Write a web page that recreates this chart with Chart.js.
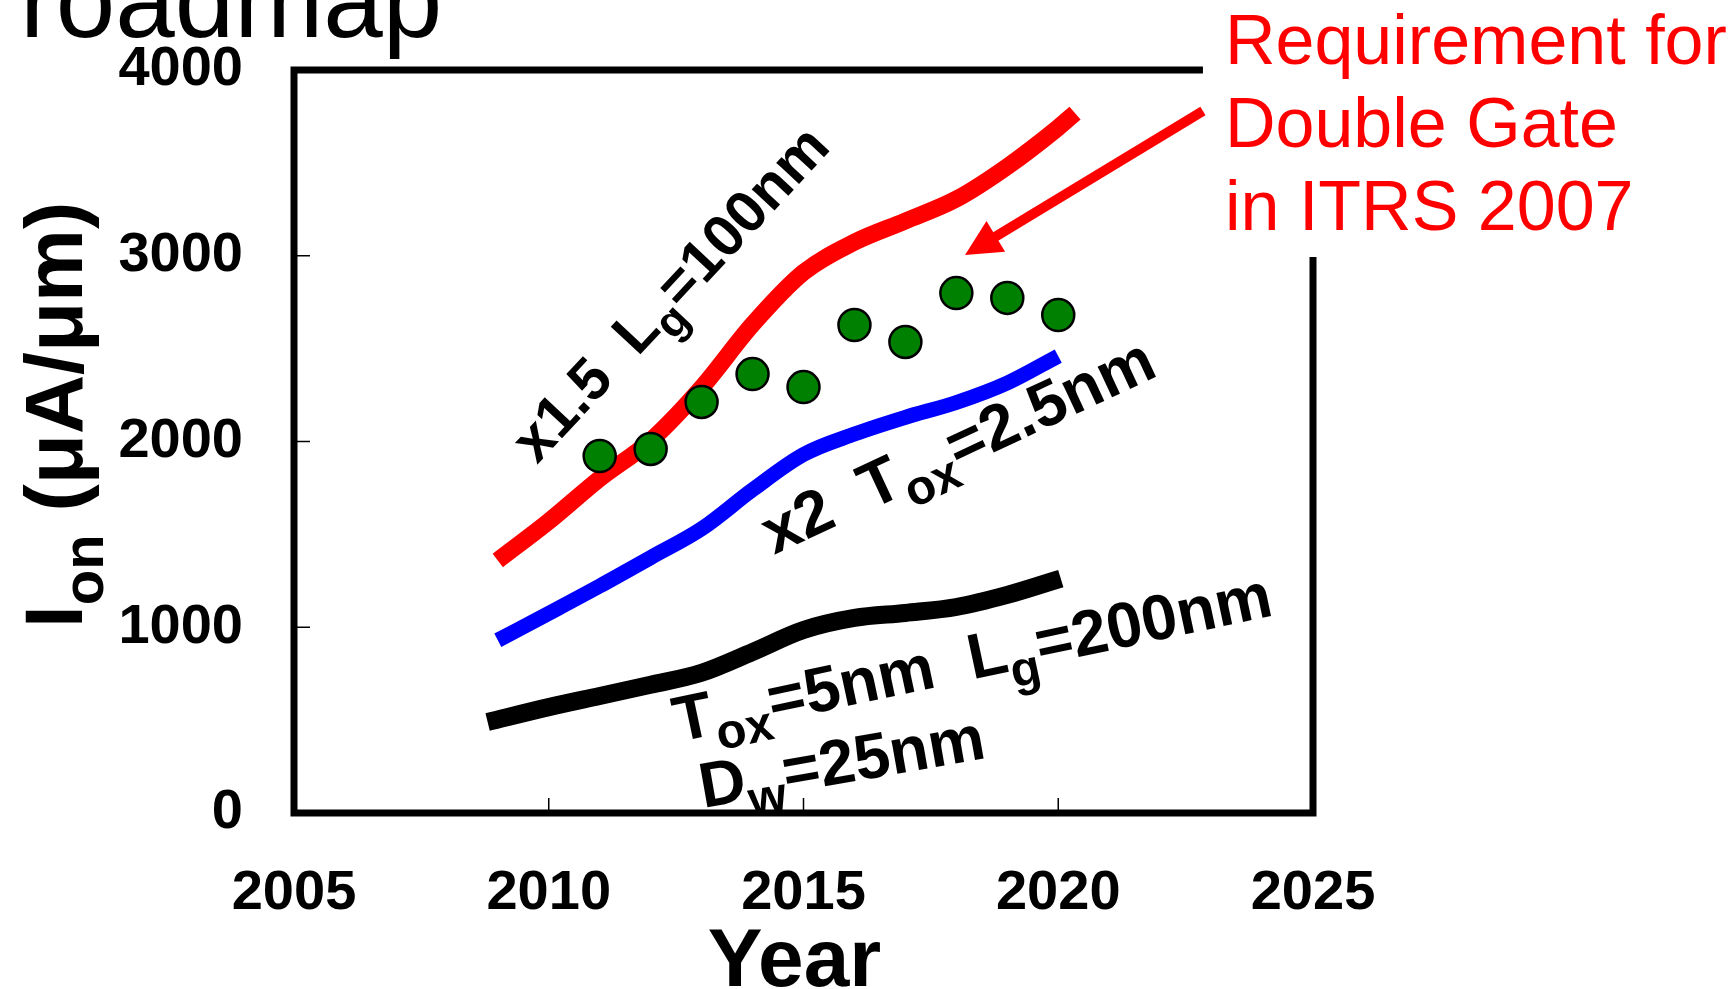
<!DOCTYPE html>
<html>
<head>
<meta charset="utf-8">
<script src="https://cdn.jsdelivr.net/npm/chart.js@4.4.1/dist/chart.umd.min.js"></script>
<style>
  html, body { margin: 0; padding: 0; background: #fff; }
  #wrap { width: 1735px; height: 989px; }
</style>
</head>
<body>
<div id="wrap"><canvas id="ionChart" width="1735" height="989"></canvas></div>
<script>
// Ion roadmap vs year
const xTicks = [2005, 2010, 2015, 2020, 2025];
const yTicks = [0, 1000, 2000, 3000, 4000];

// x1.5 Lg=100nm (red)
const redYears = [2009, 2010, 2011, 2012, 2013, 2014, 2015, 2016, 2017, 2018, 2019, 2020, 2020.33];
const redIon = [1360, 1570, 1800, 2005, 2290, 2630, 2910, 3073, 3187, 3305, 3480, 3690, 3768];

// x2 Tox=2.5nm (blue)
const blueYears = [2009, 2010, 2011, 2012, 2013, 2014, 2015, 2016, 2017, 2018, 2019, 2020];
const blueIon = [930, 1075, 1222, 1375, 1530, 1740, 1930, 2040, 2130, 2210, 2315, 2460];

// Tox=5nm Lg=200nm Dw=25nm (black)
const blackYears = [2008.8, 2010, 2011, 2012, 2013, 2014, 2015, 2016, 2017, 2018, 2019, 2020.05];
const blackIon = [490, 570, 630, 690, 755, 867, 985, 1050, 1077, 1109, 1174, 1262];

// ITRS 2007 double gate requirement (green dots)
const itrsYears = [2011, 2012, 2013, 2014, 2015, 2016, 2017, 2018, 2019, 2020];
const itrsIon = [1922, 1960, 2213, 2363, 2293, 2627, 2536, 2799, 2773, 2681];

// rotated curve labels: anchor (year, Ion), angle in degrees, font size, text parts
const curveLabels = [
  { at: [2009.77, 1873], angle: -47, size: 59, parts: [['x1.5  '], ['L'], ['g', true], ['=100nm']] },
  { at: [2014.42, 1389], angle: -25, size: 64, parts: [['x2  '], ['T'], ['ox', true], ['=2.5nm']] },
  { at: [2012.54, 382], angle: -12, size: 64, parts: [['T'], ['ox', true], ['=5nm  '], ['L'], ['g', true], ['=200nm']] },
  { at: [2013.03, 27], angle: -10, size: 64, parts: [['D'], ['w', true], ['=25nm']] }
];

const noteLines = ['Requirement for', 'Double Gate', 'in ITRS 2007'];
// arrow from the note towards the dots (year, Ion)
const arrowFrom = [2022.84, 3779];
const arrowTo = [2018.17, 3004];

const FONT = 'Arial, "Liberation Sans", sans-serif';

function toPts(xs, ys) {
  return xs.map((x, i) => ({ x: x, y: ys[i] }));
}

function drawRich(ctx, x, y, deg, parts, size) {
  ctx.save();
  ctx.translate(x, y);
  ctx.rotate(deg * Math.PI / 180);
  ctx.textBaseline = 'alphabetic';
  ctx.textAlign = 'left';
  let cx = 0;
  for (const [t, sub] of parts) {
    const fs = sub ? Math.round(size * 0.77) : size;
    ctx.font = `bold ${fs}px ${FONT}`;
    ctx.fillText(t, cx, sub ? size * 0.26 : 0);
    cx += ctx.measureText(t).width;
  }
  ctx.restore();
}

const slidePlugin = {
  id: 'slide',
  beforeDatasetsDraw(chart) {
    const { ctx, chartArea: a, scales } = chart;
    ctx.save();
    // inward tick marks
    ctx.strokeStyle = '#000';
    ctx.lineWidth = 1.5;
    yTicks.slice(1, -1).forEach(v => {
      const py = scales.y.getPixelForValue(v);
      ctx.beginPath(); ctx.moveTo(a.left, py); ctx.lineTo(a.left + 16, py); ctx.stroke();
    });
    xTicks.slice(1, -1).forEach(v => {
      const px = scales.x.getPixelForValue(v);
      ctx.beginPath(); ctx.moveTo(px, a.bottom); ctx.lineTo(px, a.bottom - 15); ctx.stroke();
    });
    // frame
    ctx.lineWidth = 7;
    ctx.lineJoin = 'miter';
    ctx.strokeRect(a.left, a.top, a.right - a.left, a.bottom - a.top);
    ctx.restore();
  },
  afterDatasetsDraw(chart) {
    const { ctx, chartArea: a, scales } = chart;
    const sx = scales.x, sy = scales.y;
    ctx.save();
    ctx.fillStyle = '#000';

    curveLabels.forEach(l => {
      drawRich(ctx, sx.getPixelForValue(l.at[0]), sy.getPixelForValue(l.at[1]), l.angle, l.parts, l.size);
    });

    // note box (white background hides the frame corner)
    const ax = sx.getPixelForValue(arrowFrom[0]);
    ctx.fillStyle = '#fff';
    ctx.fillRect(ax, 0, chart.width - ax, 257);
    ctx.fillStyle = '#ff0000';
    ctx.font = `70px ${FONT}`;
    noteLines.forEach((t, i) => ctx.fillText(t, ax + 22, 64 + i * 83));

    // arrow
    const x0 = ax, y0 = sy.getPixelForValue(arrowFrom[1]);
    const x1 = sx.getPixelForValue(arrowTo[0]), y1 = sy.getPixelForValue(arrowTo[1]);
    const len = Math.hypot(x1 - x0, y1 - y0);
    const ux = (x1 - x0) / len, uy = (y1 - y0) / len;
    const headL = 36, headW = 18;
    const bx = x1 - ux * headL, by = y1 - uy * headL;
    ctx.strokeStyle = '#ff0000';
    ctx.lineWidth = 10;
    ctx.beginPath(); ctx.moveTo(x0, y0); ctx.lineTo(bx + ux * 4, by + uy * 4); ctx.stroke();
    ctx.beginPath();
    ctx.moveTo(x1, y1);
    ctx.lineTo(bx - uy * headW, by + ux * headW);
    ctx.lineTo(bx + uy * headW, by - ux * headW);
    ctx.closePath();
    ctx.fill();

    // slide title remnant
    ctx.fillStyle = '#000';
    ctx.font = `107px ${FONT}`;
    ctx.fillText('roadmap', 20, 37);

    // x axis title
    ctx.font = `bold 82px ${FONT}`;
    ctx.textAlign = 'center';
    ctx.fillText('Year', (a.left + a.right) / 2 - 9, 986);

    // y axis title with subscript
    ctx.textAlign = 'left';
    ctx.translate(82, 628);
    ctx.rotate(-Math.PI / 2);
    let cx = 0;
    ctx.font = `bold 82px ${FONT}`;
    ctx.fillText('I', cx, 0); cx += ctx.measureText('I').width;
    ctx.font = `bold 58px ${FONT}`;
    ctx.fillText('on', cx, 21); cx += ctx.measureText('on').width;
    ctx.font = `bold 82px ${FONT}`;
    ctx.fillText(' (\u03bcA/\u03bcm)', cx, 0);
    ctx.restore();
  }
};

const lineStyle = {
  pointRadius: 0,
  fill: false,
  borderCapStyle: 'butt',
  cubicInterpolationMode: 'monotone'
};

new Chart(document.getElementById('ionChart'), {
  type: 'line',
  data: {
    datasets: [
      {
        label: 'ITRS 2007 Double Gate',
        data: toPts(itrsYears, itrsIon),
        showLine: false,
        pointRadius: 16,
        pointBackgroundColor: '#008000',
        pointBorderColor: '#000',
        pointBorderWidth: 2.5
      },
      Object.assign({ label: 'x1.5 Lg=100nm', data: toPts(redYears, redIon), borderColor: '#ff0000', borderWidth: 17 }, lineStyle),
      Object.assign({ label: 'x2 Tox=2.5nm', data: toPts(blueYears, blueIon), borderColor: '#0000ff', borderWidth: 15 }, lineStyle),
      Object.assign({ label: 'Tox=5nm Lg=200nm Dw=25nm', data: toPts(blackYears, blackIon), borderColor: '#000000', borderWidth: 18 }, lineStyle)
    ]
  },
  options: {
    responsive: false,
    animation: false,
    layout: { padding: { top: 70, right: 422, left: 0, bottom: 0 } },
    plugins: {
      legend: { display: false },
      tooltip: { enabled: false }
    },
    scales: {
      x: {
        type: 'linear',
        min: 2005,
        max: 2025,
        afterFit: s => { s.height = 176; },
        afterBuildTicks: s => { s.ticks = xTicks.map(v => ({ value: v })); },
        ticks: {
          color: '#000',
          padding: 47,
          maxRotation: 0,
          font: { family: FONT, size: 56, weight: 'bold' },
          callback: v => String(v)
        },
        grid: { display: false, drawTicks: false },
        border: { display: false }
      },
      y: {
        min: 0,
        max: 4000,
        // the label padding would otherwise push the plot top down
        afterFit: s => { s.width = 294; s.paddingTop = 0; s.paddingBottom = 0; },
        afterBuildTicks: s => { s.ticks = yTicks.map(v => ({ value: v })); },
        ticks: {
          color: '#000',
          padding: 51,
          font: { family: FONT, size: 56, weight: 'bold' },
          callback: v => String(v)
        },
        grid: { display: false, drawTicks: false },
        border: { display: false }
      }
    }
  },
  plugins: [slidePlugin]
});
</script>
</body>
</html>
